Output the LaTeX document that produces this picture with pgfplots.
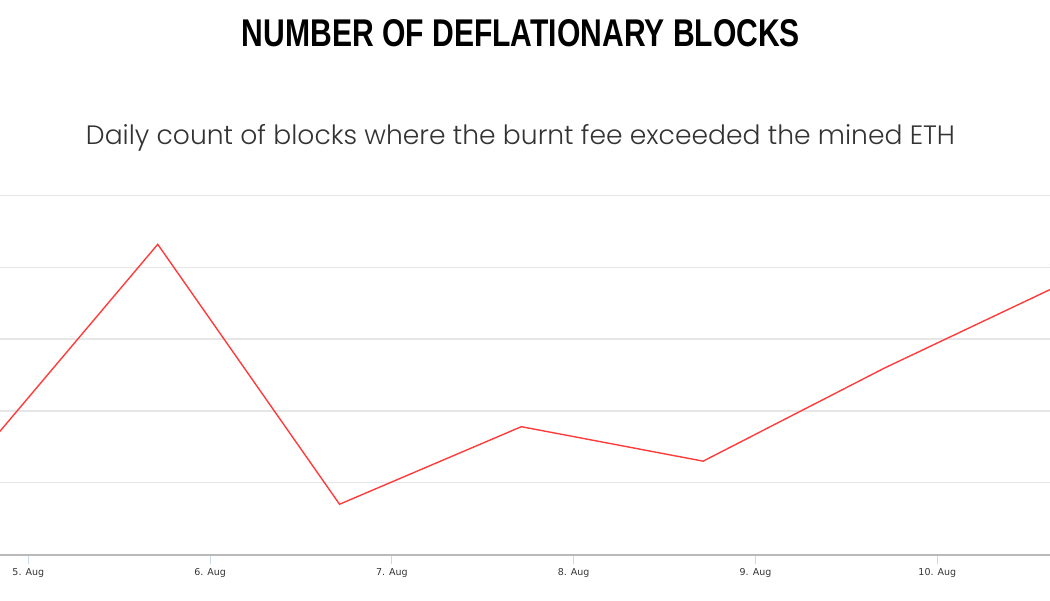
\documentclass[border=0pt]{standalone}
\usepackage{pgfplots}
\pgfplotsset{compat=1.18}
\usepackage{fontspec}
\setmainfont{DejaVu Sans}
\newfontfamily\titlefont{Liberation Sans}
\newfontfamily\subfont{Poppins Light}

\definecolor{linered}{RGB}{255,60,60}
\definecolor{gridgray}{RGB}{230,230,230}
\definecolor{axisgray}{RGB}{185,185,185}
\definecolor{tickblue}{RGB}{204,214,235}
\definecolor{labelgray}{RGB}{51,51,51}
\definecolor{ylabel}{RGB}{200,120,40}

\begin{document}
\begin{tikzpicture}
\useasboundingbox (0,0) rectangle (1050pt,600pt);
\clip (0,0) rectangle (1050pt,600pt);

% titles
\node[inner sep=0pt] at (521pt,566.5pt)
  {\resizebox{558pt}{27pt}{\titlefont\bfseries NUMBER OF DEFLATIONARY BLOCKS}};
\node[inner sep=0pt, anchor=base] at (520.5pt,455pt)
  {\resizebox{869pt}{!}{\subfont\color{labelgray}Daily count of blocks where the burnt fee exceeded the mined ETH}};

\begin{axis}[
  at={(-62.6pt,45.5pt)}, anchor=south west,
  scale only axis, width=1272.6pt, height=359pt,
  xmin=4.5, xmax=11.5, ymin=0, ymax=250,
  axis x line*=bottom, axis y line*=right,
  x axis line style={draw=axisgray, line width=2pt},
  y axis line style={draw=none},
  xtick={5,6,7,8,9,10},
  xticklabels={5. Aug,6. Aug,7. Aug,8. Aug,9. Aug,10. Aug},
  tick align=outside,
  x tick style={draw=tickblue, line width=1pt},
  major tick length=9pt,
  xticklabel style={font=\fontsize{9.5}{11}\selectfont, text=labelgray, yshift=-1.5pt},
  ytick={0,50,100,150,200,250},
  yticklabels={,,100,150,200,},
  y tick style={draw=none},
  yticklabel pos=right,
  yticklabel style={font=\fontsize{9.5}{11}\selectfont, text=ylabel,
    anchor=base east, xshift=-148pt, yshift=2pt},
  ymajorgrids,
  grid style={draw=gridgray, line width=1.5pt},
]
\addplot[color=linered, line width=1.4pt] coordinates {
  (4.712,66) (5.712,216) (6.712,35) (7.712,89) (8.712,65) (9.712,130) (10.712,190)
};
\end{axis}
\end{tikzpicture}
\end{document}
